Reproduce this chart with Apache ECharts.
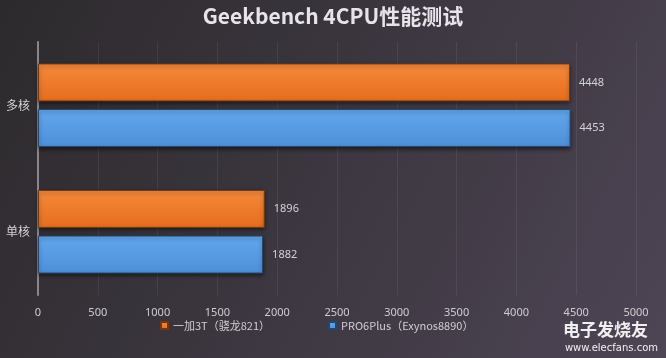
<!DOCTYPE html>
<html><head><meta charset="utf-8">
<script src="https://cdn.jsdelivr.net/npm/echarts@6/dist/echarts.min.js"></script>
<style>html,body{margin:0;padding:0;}#c{width:666px;height:358px;}</style>
</head><body><div id="c"></div>
<script>
const categories = ['单核', '多核'];
const seriesNames = ['一加3T（骁龙821）', 'PRO6Plus（Exynos8890）'];
const oneplusValues = [1896, 4448];
const pro6Values = [1882, 4453];
const titleText = 'Geekbench 4CPU性能测试';

const chart = echarts.init(document.getElementById('c'));
const lbl = {show: true, position: 'right', distance: 9, color: '#d4d2d6', fontSize: 11, fontFamily: 'Noto Sans'};
chart.setOption({
  backgroundColor: new echarts.graphic.LinearGradient(0, 0, 1, 1, [
    {offset: 0, color: '#2d2a2d'}, {offset: 0.5, color: '#3c3740'}, {offset: 1, color: '#4e4555'}
  ]),
  title: {text: titleText, left: 'center', top: 1,
    textStyle: {color: '#e6e4e8', fontSize: 21, fontWeight: 'bold', fontFamily: 'Noto Sans CJK SC'}},
  legend: {data: seriesNames, bottom: 22, left: 155, itemWidth: 7, itemHeight: 7, itemGap: 58, icon: 'rect',
    textStyle: {color: '#cfcdd2', fontSize: 11, fontFamily: 'Noto Sans CJK SC'}},
  grid: {left: 38, right: 30, top: 42, bottom: 63},
  xAxis: {type: 'value', min: 0, max: 5000, interval: 500,
    axisLine: {show: false}, axisTick: {show: false},
    axisLabel: {color: '#cfcdd2', fontSize: 11, margin: 12, fontFamily: 'Noto Sans', formatter: v => String(v)},
    splitLine: {lineStyle: {color: 'rgba(255,255,255,0.07)'}}},
  yAxis: {type: 'category', data: categories,
    axisLine: {show: true, lineStyle: {color: '#8a878c', width: 2}}, axisTick: {show: false},
    axisLabel: {color: '#d4d2d6', fontSize: 12, margin: 8, fontFamily: 'Noto Sans CJK SC'}},
  series: [
    {name: seriesNames[0], type: 'bar', data: oneplusValues, barWidth: 38, barGap: '20%', label: lbl,
      itemStyle: {color: new echarts.graphic.LinearGradient(0, 0, 0, 1, [
        {offset: 0, color: '#f68a3c'}, {offset: 1, color: '#e56d1c'}]),
        borderColor: '#6e3a14', borderWidth: 1,
        shadowColor: 'rgba(0,0,0,0.5)', shadowBlur: 4, shadowOffsetY: 2}},
    {name: seriesNames[1], type: 'bar', data: pro6Values, barWidth: 38, barGap: '20%', label: lbl,
      itemStyle: {color: new echarts.graphic.LinearGradient(0, 0, 0, 1, [
        {offset: 0, color: '#62a8ee'}, {offset: 1, color: '#4d8fd8'}]),
        borderColor: '#27466a', borderWidth: 1,
        shadowColor: 'rgba(0,0,0,0.5)', shadowBlur: 4, shadowOffsetY: 2}}
  ],
  graphic: [
    {type: 'text', right: 18, bottom: 20, style: {text: '电子发烧友', fill: 'rgba(255,255,255,0.92)', font: 'bold 17px "Noto Sans CJK SC"'}},
    {type: 'text', right: 8, bottom: 5, style: {text: 'www.elecfans.com', fill: 'rgba(255,255,255,0.92)', font: '10px "DejaVu Sans"'}}
  ]
});
</script></body></html>
